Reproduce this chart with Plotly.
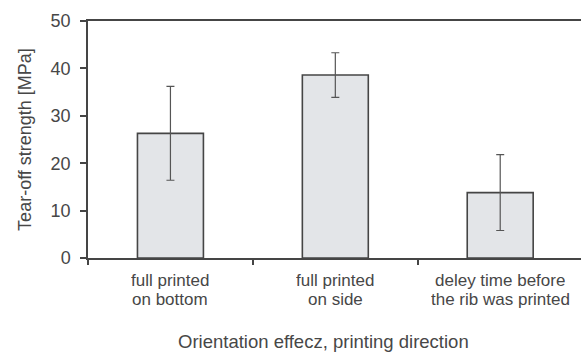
import plotly.graph_objects as go

categories = ["full printed on bottom", "full printed on side", "deley time before the rib was printed"]
label_line1 = ["full printed", "full printed", "deley time before"]
label_line2 = ["on bottom", "on side", "the rib was printed"]
values = [26.3, 38.6, 13.8]
errors = [9.9, 4.7, 8.0]
y_ticks = [0, 10, 20, 30, 40, 50]

font = "Liberation Sans, Arial, sans-serif"
txt = "#474747"

fig = go.Figure()
fig.add_trace(go.Bar(
    x=categories, y=values,
    width=0.4,
    marker=dict(color="#e3e5e8", line=dict(color="#454545", width=1.6)),
    error_y=dict(type="data", array=errors, visible=True, color="#555555", thickness=1.2, width=4),
))

for c, l1, l2 in zip(categories, label_line1, label_line2):
    fig.add_annotation(x=c, xref="x", y=0, yref="paper", text=l1, showarrow=False,
                       height=17, borderpad=0, valign="middle",
                       yanchor="middle", yshift=-22, font=dict(size=17, family=font, color=txt))
    fig.add_annotation(x=c, xref="x", y=0, yref="paper", text=l2, showarrow=False,
                       height=17, borderpad=0, valign="middle",
                       yanchor="middle", yshift=-41, font=dict(size=17, family=font, color=txt))

fig.add_annotation(x=0.477, xref="paper", y=0, yref="paper", text="Orientation effecz, printing direction",
                   showarrow=False, yanchor="middle", yshift=-83, font=dict(size=18.5, family=font, color=txt))

fig.update_layout(
    width=581, height=352,
    margin=dict(l=88, r=0, t=21, b=94),
    paper_bgcolor="white", plot_bgcolor="white",
    showlegend=False,
    font=dict(family=font, color=txt, size=18),
    xaxis=dict(
        range=[-0.5, 2.49],
        showline=True, linecolor="#454545", linewidth=1.5, mirror=True,
        ticks="outside", tickson="boundaries", ticklen=5, tickcolor="#454545", tickwidth=1.5,
        showgrid=False, zeroline=False, showticklabels=False,
    ),
    yaxis=dict(
        range=[0, 50], tickvals=y_ticks,
        showline=True, linecolor="#454545", linewidth=1.5,
        ticks="outside", ticklen=6, tickcolor="#454545", tickwidth=1.5,
        ticklabelstandoff=6,
        showgrid=False, zeroline=False,
        tickfont=dict(size=18, family=font, color=txt),
        title=dict(text="Tear-off strength [MPa]", font=dict(size=18, family=font, color=txt), standoff=14),
    ),
)
fig.write_html("out.html")
